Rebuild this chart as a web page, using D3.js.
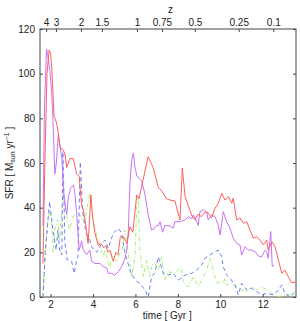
<!DOCTYPE html>
<meta charset="utf-8">
<script src="https://cdn.jsdelivr.net/npm/d3@7"></script>
<style>
  body { margin: 0; background: #fff; }
  text { font-family: "Liberation Sans", Arial, sans-serif; fill: #222; }
</style>
<div id="chart"></div>
<script>

// SFR histories: [time (Gyr), SFR (Msun/yr)]
var redSFR = [[1.64,15],[1.73,60],[1.83,100],[1.93,110.6],[2.0,109],[2.05,103],[2.11,92],[2.16,81],[2.28,78],[2.37,73],[2.44,67],[2.58,66],[2.68,64],[2.76,58],[2.91,62],[3.07,62],[3.23,55],[3.35,54],[3.46,41],[3.54,39],[3.62,34.5],[3.77,24],[3.90,45.7],[3.99,35],[4.09,28.6],[4.25,23],[4.37,24],[4.51,22],[4.61,23],[4.70,20],[4.80,21],[4.95,16],[5.08,20],[5.18,19],[5.29,27],[5.43,27],[5.60,24],[5.74,31.5],[5.88,29],[6.06,45.7],[6.17,44],[6.35,52],[6.60,62.8],[6.83,58],[7.08,49],[7.20,48],[7.47,44],[7.63,43.4],[7.86,43],[8.10,34.5],[8.21,57.7],[8.34,45],[8.49,41],[8.65,36.7],[8.81,34.5],[8.95,37],[9.12,36],[9.28,38],[9.43,37.6],[9.59,35.4],[9.75,39.7],[9.91,42],[10.07,46.5],[10.22,43.4],[10.38,45],[10.54,42],[10.61,44.3],[10.77,34.5],[10.93,35.4],[11.09,33],[11.25,33.7],[11.40,30],[11.56,26.3],[11.72,27],[11.87,25.5],[12.03,23.3],[12.19,25.5],[12.26,21],[12.43,24.8],[12.58,22.5],[12.74,16.6],[12.90,10.6],[13.05,12],[13.21,9],[13.37,6.4],[13.57,6.7]]

var purpleSFR = [[1.64,32],[1.71,85],[1.81,111],[1.87,108],[1.97,101],[2.04,93],[2.11,80],[2.20,55],[2.27,60],[2.36,72.5],[2.44,68],[2.53,62],[2.63,45],[2.76,37],[2.84,45],[2.96,49],[3.08,50],[3.15,46],[3.23,37],[3.30,27],[3.35,21],[3.46,25],[3.54,21],[3.70,19],[3.85,21],[3.93,16],[4.09,15],[4.33,15],[4.48,13.6],[4.64,13],[4.72,10.6],[4.88,10.6],[5.03,9.8],[5.19,11.3],[5.35,13.6],[5.51,17.3],[5.59,21],[5.66,29],[5.74,51],[5.82,61],[5.90,64.4],[5.98,58],[6.07,54],[6.29,52],[6.45,46],[6.60,37],[6.76,30],[6.87,30.5],[7.0,32],[7.08,32],[7.16,33.7],[7.28,29],[7.39,32],[7.63,31.8],[7.78,30.8],[7.86,33.7],[8.10,33.7],[8.34,34.5],[8.49,36],[8.65,35],[8.73,36.7],[8.89,33.7],[8.96,32],[9.04,38.2],[9.20,39],[9.36,38],[9.43,34.5],[9.59,36.7],[9.75,36],[9.91,32],[9.99,27.8],[10.14,38.2],[10.30,33.7],[10.46,30.8],[10.61,26.3],[10.77,24],[10.93,23.3],[11.01,18.8],[11.17,22.5],[11.32,21],[11.48,21],[11.64,20.3],[11.79,18.4],[11.95,18],[12.11,21],[12.19,20.3],[12.26,17.3],[12.34,25.5],[12.38,29.3],[12.45,13.6],[12.53,14.3]]

var blueSFR = [[1.64,0],[1.75,20],[1.95,42.7],[2.11,30],[2.26,21],[2.34,30],[2.43,21],[2.53,18.8],[2.58,65],[2.63,45],[2.67,25],[2.78,16.6],[2.99,16],[3.11,10.6],[3.23,16.6],[3.29,18],[3.40,60.5],[3.52,37.6],[3.68,28.5],[3.85,25.5],[3.93,22.5],[4.17,20],[4.41,24],[4.56,25.5],[4.72,21.8],[4.95,28.5],[5.19,30.8],[5.35,28.5],[5.51,19.6],[5.74,12],[5.98,7.6],[6.21,6.1],[6.45,3.1],[6.60,0],[6.76,9],[6.92,11],[7.08,18],[7.31,10.6],[7.55,9.8],[7.78,10.6],[8.02,7.6],[8.34,9.8],[8.65,10.6],[8.89,12],[9.12,14.3],[9.28,17.3],[9.51,18.8],[9.75,20.3],[9.91,21],[10.07,18],[10.14,13.6],[10.30,9.8],[10.46,8.4],[10.69,5.4],[10.85,1],[11.01,6.1],[11.25,3.1],[11.48,3.9],[11.72,2.4],[11.95,1],[12.19,1.6],[12.50,1],[12.74,3.1],[12.90,5.4],[13.05,1.5],[13.29,0],[13.52,2.4]]

var greenSFR = [[1.64,0],[1.71,15],[1.87,34.5],[1.97,39],[2.05,33.7],[2.12,19.7],[2.19,30],[2.34,34.5],[2.43,25.5],[2.58,46],[2.76,36],[2.90,30],[3.05,36],[3.29,37.5],[3.44,36],[3.60,33],[3.84,46.4],[3.99,34.5],[4.09,30.8],[4.33,22.5],[4.48,18],[4.56,21],[4.80,12.9],[4.88,19.6],[5.11,15.8],[5.27,19.6],[5.35,19.6],[5.50,30],[5.66,19.6],[5.82,9],[5.98,18],[6.06,40.4],[6.13,45],[6.21,21],[6.37,9],[6.53,16.6],[6.68,9],[6.76,14.3],[6.92,15],[7.08,12],[7.24,18],[7.31,11.3],[7.39,7.6],[7.55,11.3],[7.78,10.6],[7.94,11.3],[8.15,13.6],[8.26,6.1],[8.49,4.6],[8.73,9],[8.96,4.6],[9.20,9],[9.36,12],[9.51,17.3],[9.67,12],[9.83,6.1],[9.99,6.8],[10.14,6.1],[10.22,8.4],[10.30,5.4],[10.54,6.1],[10.77,4.6],[11.01,3.1],[11.25,2.4],[11.48,4.6],[11.72,3.1],[11.95,4.6],[12.19,3.1],[12.43,1.6],[12.66,0],[13.13,1],[13.37,1],[13.57,1.6]]

// axis ticks
var timeTicks = [2, 4, 6, 8, 10, 12]
var sfrTicks = [0, 20, 40, 60, 80, 100, 120]
var zLabels = ["4", "3", "2", "1.5", "1", "0.75", "0.5", "0.25", "0.1"]
var zTimes = [1.79, 2.25, 3.43, 4.42, 6.07, 7.25, 8.8, 10.87, 12.5]

var margin = {top: 29, right: 4, bottom: 24, left: 40},
    width = 300 - margin.left - margin.right,
    height = 321 - margin.top - margin.bottom

var svg = d3.select("#chart")
  .append("svg")
    .attr("width", 300)
    .attr("height", 321)
  .append("g")
    .attr("transform", "translate(" + margin.left + "," + margin.top + ")")

var x = d3.scaleLinear().domain([1.5, 13.57]).range([0, width])
var y = d3.scaleLinear().domain([0, 120]).range([height, 0])

var axisColor = "#444"

// box
svg.append("rect")
  .attr("width", width).attr("height", height)
  .attr("fill", "none").attr("stroke", axisColor).attr("stroke-width", 1)

function styleAxis(g) {
  g.select(".domain").remove()
  g.selectAll(".tick line").attr("stroke", axisColor)
  g.selectAll(".tick text")
    .style("font-family", "'Liberation Sans', Arial, sans-serif")
    .style("font-size", "10px").attr("fill", "#222")
}

// bottom axis, ticks inward
svg.append("g")
  .attr("transform", "translate(0," + height + ")")
  .call(d3.axisBottom(x).tickValues(timeTicks).tickSize(-3).tickPadding(4).tickFormat(d3.format("d")))
  .call(styleAxis)

// left axis
svg.append("g")
  .call(d3.axisLeft(y).tickValues(sfrTicks).tickSize(-3).tickPadding(5))
  .call(styleAxis)

// right axis ticks only
svg.append("g")
  .attr("transform", "translate(" + width + ",0)")
  .call(d3.axisRight(y).tickValues(sfrTicks).tickSize(-3).tickFormat(""))
  .call(styleAxis)

// top redshift axis
var zAxis = d3.axisTop(x).tickValues(zTimes).tickSize(-3).tickPadding(3)
  .tickFormat(function(d, i) { return zLabels[i] })
svg.append("g")
  .call(zAxis)
  .call(styleAxis)

// lines
var line = d3.line()
  .x(function(d) { return x(d[0]) })
  .y(function(d) { return y(d[1]) })

var plot = svg.append("g")

plot.append("path").datum(greenSFR)
  .attr("d", line).attr("fill", "none")
  .attr("stroke", "#a8f07a").attr("stroke-width", 1)
  .attr("stroke-dasharray", "4,2,1,2")

plot.append("path").datum(blueSFR)
  .attr("d", line).attr("fill", "none")
  .attr("stroke", "#7080f0").attr("stroke-width", 1)
  .attr("stroke-dasharray", "4,3")

plot.append("path").datum(purpleSFR)
  .attr("d", line).attr("fill", "none")
  .attr("stroke", "#c773f7").attr("stroke-width", 1)

plot.append("path").datum(redSFR)
  .attr("d", line).attr("fill", "none")
  .attr("stroke", "#ff5f5f").attr("stroke-width", 1)

// labels
svg.append("text")
  .attr("x", x(7.5)).attr("y", height + 22)
  .attr("text-anchor", "middle")
  .style("font-size", "10px")
  .text("time [ Gyr ]")

svg.append("text")
  .attr("x", x(7.65)).attr("y", -16)
  .attr("text-anchor", "middle")
  .style("font-size", "10px")
  .text("z")

var ylab = svg.append("text")
  .attr("transform", "translate(-27," + (height / 2) + ") rotate(-90)")
  .attr("text-anchor", "middle")
  .style("font-size", "10px")
ylab.append("tspan").text("SFR [ M")
ylab.append("tspan").attr("dy", 2).style("font-size", "7px").text("sun")
ylab.append("tspan").attr("dy", -2).text(" yr")
ylab.append("tspan").attr("dy", -4).style("font-size", "7px").text("−1")
ylab.append("tspan").attr("dy", 4).text(" ]")

</script>
